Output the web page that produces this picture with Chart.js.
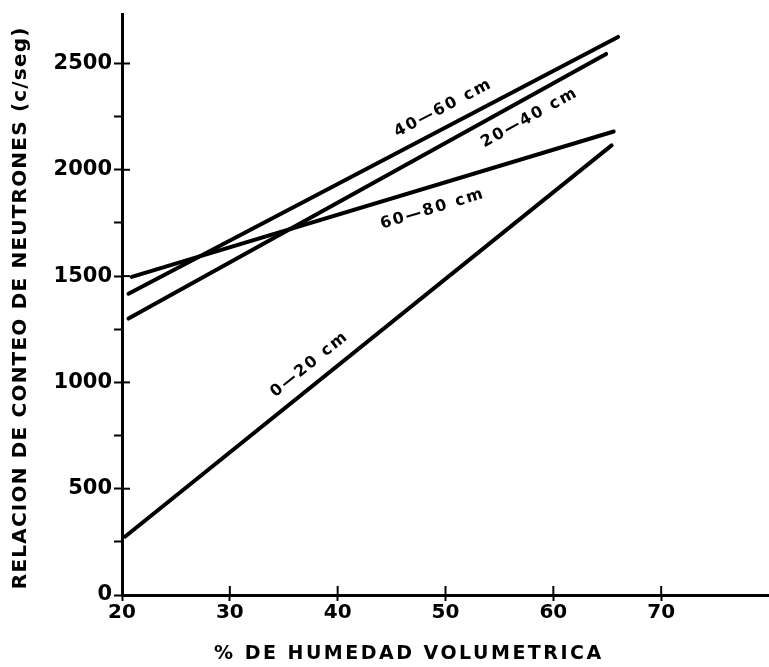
<!DOCTYPE html>
<html>
<head>
<meta charset="utf-8">
<script src="https://cdn.jsdelivr.net/npm/chart.js@4/dist/chart.umd.min.js"></script>
<style>
  body { margin: 0; background: #fff; }
  canvas { display: block; }
</style>
</head>
<body>
<canvas id="grafico" width="769" height="667"></canvas>
<script>
// profundidades y puntos (% humedad, c/seg)
const profundidades = ["0\u201420 cm", "20\u201440 cm", "40\u201460 cm", "60\u201480 cm"];
const humedad_0_20 = [20.3, 65.4];
const conteo_0_20 = [275, 2115];
const humedad_20_40 = [20.6, 64.9];
const conteo_20_40 = [1300, 2545];
const humedad_40_60 = [20.6, 66.0];
const conteo_40_60 = [1417, 2625];
const humedad_60_80 = [20.9, 65.6];
const conteo_60_80 = [1496, 2180];

const xTicks = [20, 30, 40, 50, 60, 70];
const yTicks = [0, 500, 1000, 1500, 2000, 2500];

// donde va el rotulo de cada recta (en unidades de los ejes)
const rotuloX = [37.4, 57.8, 49.8, 48.8];
const rotuloY = [1085, 2245, 2290, 1815];

function puntos(xs, ys) {
    return xs.map((x, i) => ({ x: x, y: ys[i] }));
}

const series = [
    puntos(humedad_0_20, conteo_0_20),
    puntos(humedad_20_40, conteo_20_40),
    puntos(humedad_40_60, conteo_40_60),
    puntos(humedad_60_80, conteo_60_80)
];

const FUENTE = "'DejaVu Sans', sans-serif";

const rotulos = {
    id: 'rotulos',
    afterDatasetsDraw(chart) {
        const ctx = chart.ctx;
        const sx = chart.scales.x, sy = chart.scales.y;
        ctx.save();
        ctx.fillStyle = '#000';
        ctx.font = "bold 16px " + FUENTE;
        ctx.textAlign = 'center';
        ctx.textBaseline = 'middle';
        series.forEach((pts, i) => {
            const a = pts[0], b = pts[pts.length - 1];
            const ang = Math.atan2(sy.getPixelForValue(b.y) - sy.getPixelForValue(a.y),
                                   sx.getPixelForValue(b.x) - sx.getPixelForValue(a.x));
            ctx.save();
            ctx.translate(sx.getPixelForValue(rotuloX[i]), sy.getPixelForValue(rotuloY[i]));
            ctx.rotate(ang);
            ctx.letterSpacing = '2px';
            ctx.fillText(profundidades[i], 0, 0);
            ctx.restore();
        });

        // marcas hacia dentro de los ejes
        ctx.strokeStyle = '#000';
        ctx.lineWidth = 2;
        yTicks.slice(1).forEach(v => {
            const py = sy.getPixelForValue(v);
            ctx.beginPath();
            ctx.moveTo(sx.left, py);
            ctx.lineTo(sx.left + 8, py);
            ctx.stroke();
        });
        xTicks.slice(1).forEach(v => {
            const px = sx.getPixelForValue(v);
            ctx.beginPath();
            ctx.moveTo(px, sy.bottom);
            ctx.lineTo(px, sy.bottom - 9);
            ctx.stroke();
        });

        // titulos de los ejes
        ctx.letterSpacing = '2.5px';
        ctx.font = "bold 19px " + FUENTE;
        ctx.textBaseline = 'middle';
        ctx.fillText('% DE HUMEDAD VOLUMETRICA', sx.getPixelForValue(46.6), 654);
        ctx.save();
        ctx.translate(21, (sy.top + sy.bottom) / 2 + 3);
        ctx.rotate(-Math.PI / 2);
        ctx.font = "bold 20px " + FUENTE;
        ctx.letterSpacing = '1.2px';
        ctx.fillText('RELACION DE CONTEO DE NEUTRONES (c/seg)', 0, 0);
        ctx.restore();
        ctx.restore();
    }
};

new Chart(document.getElementById('grafico'), {
    type: 'scatter',
    data: {
        datasets: series.map((pts, i) => ({
            label: profundidades[i],
            data: pts,
            showLine: true,
            borderColor: '#000',
            borderWidth: 4,
            borderCapStyle: 'round',
            pointRadius: 0,
            fill: false
        }))
    },
    options: {
        responsive: false,
        animation: false,
        layout: { padding: { top: 10, right: 0, left: 0, bottom: 0 } },
        plugins: {
            legend: { display: false },
            tooltip: { enabled: false }
        },
        scales: {
            x: {
                type: 'linear',
                min: 20,
                max: 80,
                afterBuildTicks: axis => { axis.ticks = xTicks.map(v => ({ value: v })); },
                afterFit: axis => { axis.height = 72; },
                border: { color: '#000', width: 3 },
                grid: { drawOnChartArea: false, color: '#000', tickLength: 6, tickWidth: 2 },
                ticks: {
                    color: '#000',
                    padding: 0,
                    font: { family: FUENTE, size: 20, weight: 'bold' }
                }
            },
            y: {
                min: 0,
                max: 2730,
                afterBuildTicks: axis => {
                    const t = [];
                    for (let v = 0; v <= 2500; v += 250) t.push({ value: v });
                    axis.ticks = t;
                },
                afterFit: axis => { axis.width = 122; },
                border: { color: '#000', width: 3 },
                grid: { drawOnChartArea: false, color: '#000', tickLength: 8, tickWidth: 2 },
                ticks: {
                    color: '#000',
                    padding: 2,
                    font: { family: FUENTE, size: 21, weight: 'bold' },
                    callback: v => (v % 500 === 0 ? String(v) : '')
                }
            }
        }
    },
    plugins: [rotulos]
});
</script>
</body>
</html>
